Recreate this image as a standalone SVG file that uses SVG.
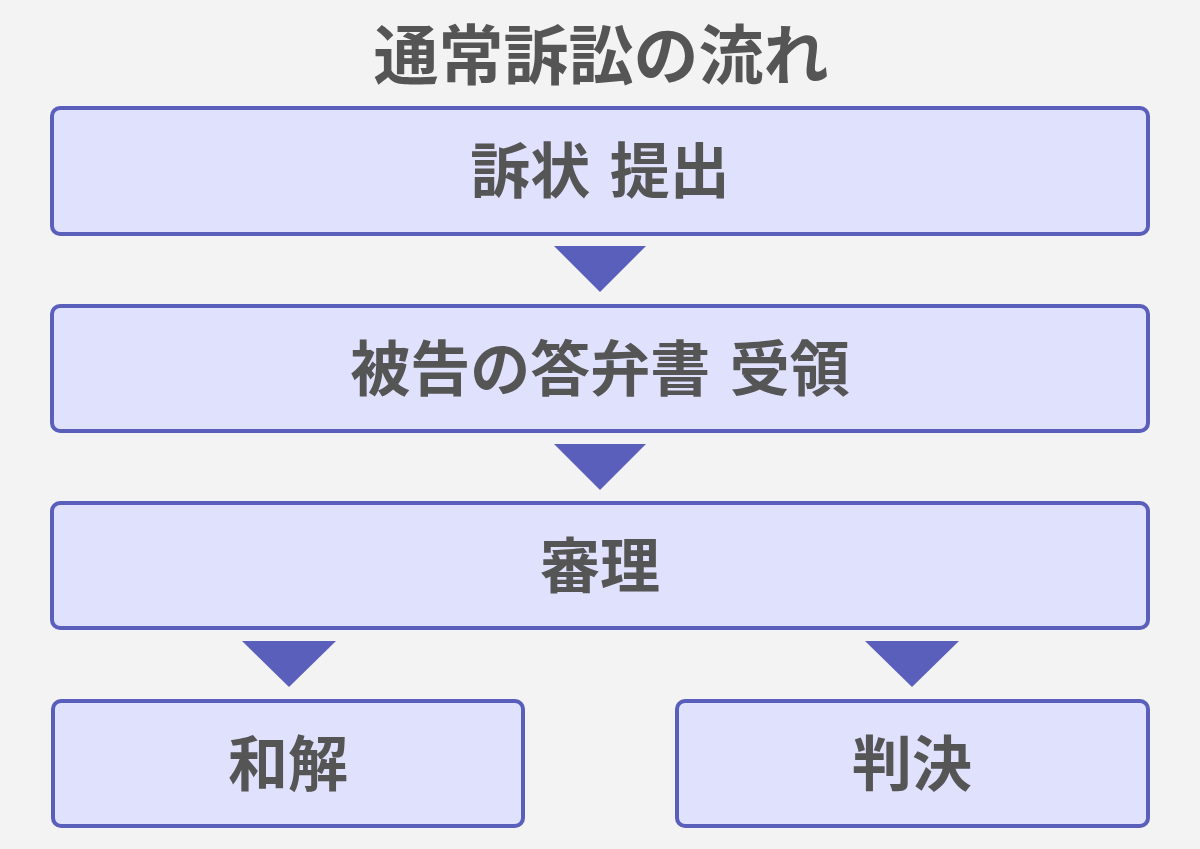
<svg xmlns="http://www.w3.org/2000/svg" width="1200" height="849" viewBox="0 0 1200 849">
<style>
.box{fill:#e0e1fd;stroke:#5a5fbb;stroke-width:4}
.t{font-family:"Noto Sans CJK JP","Noto Sans",sans-serif;font-weight:bold;fill:#555555;text-anchor:middle}
.lbl{font-size:60px;word-spacing:6px}
.arr{fill:#5a5fbb}
</style>
<rect width="1200" height="849" fill="#f3f3f3"/>
<text class="t" x="601" y="79" font-size="65">通常訴訟の流れ</text>
<g id="n1"><rect class="box" x="52" y="108" width="1096" height="126" rx="8"/><text class="t lbl" x="600" y="193">訴状 提出</text></g>
<g id="n2"><rect class="box" x="52" y="306" width="1096" height="125" rx="8"/><text class="t lbl" x="600" y="391">被告の答弁書 受領</text></g>
<g id="n3"><rect class="box" x="52" y="503" width="1096" height="125" rx="8"/><text class="t lbl" x="600" y="588">審理</text></g>
<g id="n4"><rect class="box" x="53" y="701" width="470" height="125" rx="8"/><text class="t lbl" x="288" y="786">和解</text></g>
<g id="n5"><rect class="box" x="677" y="701" width="471" height="125" rx="8"/><text class="t lbl" x="912" y="786">判決</text></g>
<g id="connectors">
<polygon class="arr" points="554,246 646,246 600,292"/>
<polygon class="arr" points="554,444 646,444 600,490"/>
<polygon class="arr" points="242,641 336,641 289,687"/>
<polygon class="arr" points="865,641 959,641 912,687"/>
</g>
</svg>
